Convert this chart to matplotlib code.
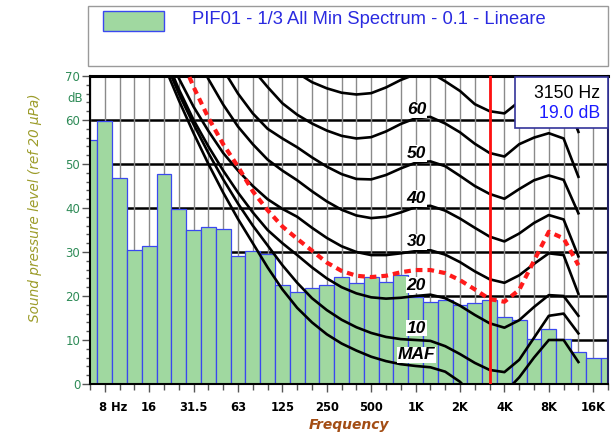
import numpy as np
import matplotlib
matplotlib.use('Agg')
import matplotlib.pyplot as plt
from matplotlib.patches import Rectangle
from matplotlib.transforms import ScaledTranslation, blended_transform_factory

# 1/3 octave bands, 6.3 Hz .. 20 kHz (index 0..35)
bands = ['6.3', '8', '10', '12.5', '16', '20', '25', '31.5', '40', '50', '63', '80',
         '100', '125', '160', '200', '250', '315', '400', '500', '630', '800', '1K',
         '1.25K', '1.6K', '2K', '2.5K', '3.15K', '4K', '5K', '6.3K', '8K', '10K',
         '12.5K', '16K', '20K']
spectrum = [55.5, 59.8, 46.8, 30.5, 31.4, 47.7, 39.8, 35.0, 35.7, 35.2, 29.1, 30.2,
            29.5, 22.5, 21.0, 21.8, 22.5, 24.3, 22.9, 24.3, 23.2, 24.8, 19.8, 18.6,
            19.1, 18.0, 18.4, 19.0, 15.3, 14.5, 10.2, 12.5, 10.2, 7.3, 5.9, 5.9]

tick_pos = [1, 4, 7, 10, 13, 16, 19, 22, 25, 28, 31, 34]
tick_labels = ['8 Hz', '16', '31.5', '63', '125', '250', '500', '1K', '2K', '4K', '8K', '16K']

# equal loudness contours, bands 20 Hz .. 12.5 kHz
contour_bands = list(range(5, 34))
maf = [72.5, 64.5, 57, 50, 43.5, 37.5, 32, 26.5, 21.5, 17.3, 14, 11.3, 9.2, 7.6, 6.2,
       5.2, 4.5, 4.1, 3.8, 2.8, 0.5, -3, -5, -2, 1.5, 6, 10, 10, 5]
phon10 = [74, 66, 59, 52.5, 46.5, 41, 36, 31.5, 27, 23, 19.5, 16.8, 14.6, 12.9, 11.6,
          10.7, 10.2, 10, 9.8, 8.6, 6.8, 4.8, 3.2, 2.7, 5.5, 10.5, 15.5, 16, 11.5]
phon20 = [75, 67, 60, 54, 48.5, 43.5, 39, 35, 32, 29.3, 26.5, 24, 22, 20.6, 19.7,
          19.4, 19.6, 20, 20.3, 19.5, 17.8, 15.7, 13.8, 12.8, 14.5, 17.5, 20.2, 20, 15.5]
phon30 = [77, 69.5, 63, 57.5, 52.5, 48.5, 45, 42, 39.8, 38, 35.5, 33.2, 31.3, 30, 29.3,
          29.3, 29.7, 30.2, 30.4, 29.4, 27.7, 25.6, 23.8, 23, 24.7, 27.3, 29.7, 29.3, 20.5]
phon40 = [90, 84, 76, 69.3, 63.5, 58.5, 54.5, 51, 48.5, 46.3, 43.8, 41.5, 39.6, 38.3, 37.7,
          38, 39, 40.2, 40.5, 39.4, 37.6, 35.5, 33.5, 32.4, 34.2, 36.6, 38.4, 37.4, 29]
phon50 = [100, 94, 87, 79, 71.5, 66, 61.5, 58, 55.8, 53.8, 51.5, 49.4, 47.7, 46.6, 46.5,
          47.5, 49, 50.3, 50.6, 49.5, 47.3, 45, 43.2, 42.1, 44.3, 46.3, 47.4, 46.4, 38.8]
phon60 = [110, 104, 98, 92, 86, 78, 71.5, 67.5, 63.8, 61.2, 59.2, 57.6, 56.4, 55.8, 56.1,
          57.4, 59.1, 60.4, 60.7, 59.2, 57.2, 54.6, 52.5, 51.7, 54.5, 56, 57, 55.8, 47.1]
phon70 = [120, 114, 108, 102, 96, 90, 84, 79, 74, 70.7, 68.6, 67.2, 66.2, 65.8, 66.1,
          67.4, 69.1, 70.4, 70.8, 68.8, 66.6, 63.6, 62, 61.5, 64.2, 66, 67, 65.8, 57.3]
limit_curve = [90, 75.5, 67.5, 60.5, 54.5, 49.4, 43.8, 39.5, 35.8, 33, 30.3, 27.6, 25.7,
               24.6, 24.3, 24.6, 25.4, 25.9, 25.9, 25.2, 23.6, 21.5, 19.3, 18.7, 21.4,
               28, 34.6, 33.1, 27]

curve_labels = ['60', '50', '40', '30', '20', '10', 'MAF']
curve_label_db = [62.3, 52.4, 42.2, 32.3, 22.5, 12.7, 6.6]
curve_label_band = 22.05

cursor_band = 27
cursor_freq = 3150
legend_text = 'PIF01 - 1/3 All Min Spectrum - 0.1 - Lineare'

W, H = 611, 432
fig = plt.figure(figsize=(W / 100, H / 100), dpi=100)
ax = fig.add_axes([90 / W, 1 - 384 / H, (608 - 90) / W, (384 - 76) / H])

x = np.arange(len(spectrum))
ax.bar(x, spectrum, width=1.0, color='#a0d8a0', edgecolor='#3a48f0', linewidth=0.9, zorder=2)

# grid
for v in range(10, 70, 10):
    ax.axhline(v, color='black', lw=1.8, zorder=1)
for i in x:
    ax.axvline(i, color='#8a8a8a', lw=1.0, zorder=1)

# contours
for c in [maf, phon10, phon20, phon30, phon40, phon50, phon60, phon70]:
    ax.plot(contour_bands, c, color='black', lw=1.9, zorder=3, solid_joinstyle='round')
ax.plot(contour_bands, limit_curve, color='#ff1a1a', lw=3, ls=(0, (1.6, 1.2)), zorder=3)

for t, v in zip(curve_labels, curve_label_db):
    ax.text(curve_label_band, v, t, ha='center', va='center', fontsize=12.5,
            family='Liberation Sans', weight='bold', style='italic', zorder=5,
            bbox=dict(boxstyle='square,pad=0.05', fc='white', ec='none'))

ax.axvline(cursor_band, color='#ff1010', lw=2, zorder=4)

ax.set_xlim(0, 34.97)
ax.set_ylim(0, 70)

ax.set_xticks(x, minor=True)
ax.set_xticks(tick_pos)
ax.set_xticklabels(tick_labels, fontsize=8.3, weight='bold', family='DejaVu Sans')
ax.tick_params(axis='x', which='major', length=6, width=1, color='#555555', pad=6)
ax.tick_params(axis='x', which='minor', length=4, width=1, color='#555555')
lab0 = ax.get_xticklabels()[0]
lab0.set_ha('left')
lab0.set_transform(lab0.get_transform() + ScaledTranslation(-4 / 72, 0, fig.dpi_scale_trans))

ax.set_yticks(range(0, 71, 10))
ax.set_yticks(range(0, 71, 2), minor=True)
ax.set_yticklabels([str(v) for v in range(0, 71, 10)], fontsize=8.5, color='#2e8b57')
ax.tick_params(axis='y', which='major', length=6, width=1, color='#555555', pad=1)
ax.tick_params(axis='y', which='minor', length=3, width=1, color='#555555')
tr = blended_transform_factory(ax.transAxes, ax.transData)
ax.text(-0.013, 65, 'dB', transform=tr, ha='right', va='center', fontsize=8.5, color='#2e8b57')

for s in ax.spines.values():
    s.set_linewidth(1.5)
    s.set_color('black')
ax.spines['top'].set_linewidth(2.2)
ax.spines['right'].set_color('#222266')

ax.set_xlabel('Frequency', fontsize=10, weight='bold', style='italic', color='#a34d14', labelpad=3)
fig.text(35 / W, 1 - 208 / H, 'Sound pressure level (ref 20 \u00b5Pa)', rotation=90,
         ha='center', va='center', fontsize=9.8, style='italic', color='#9c9c2a')

# legend box
fig.add_artist(Rectangle((88 / W, 1 - 66 / H), 520 / W, 60 / H, transform=fig.transFigure,
                         fc='white', ec='#9a9a9a', lw=1))
fig.add_artist(Rectangle((103 / W, 1 - 31 / H), 61 / W, 20 / H, transform=fig.transFigure,
                         fc='#a0d8a0', ec='#3a48f0', lw=1))
fig.text(192 / W, 1 - 20 / H, legend_text, ha='left', va='center', fontsize=13.2,
         family='Liberation Sans', color='#2a2ae0')

# cursor readout box
fig.add_artist(Rectangle((515 / W, 1 - 128 / H), 93 / W, 51 / H, transform=fig.transFigure,
                         fc='white', ec='#333399', lw=1.2, zorder=6))
fig.text(600 / W, 1 - 93 / H, f'{cursor_freq} Hz', ha='right', va='center', fontsize=12.7,
         family='Liberation Sans', color='black', zorder=7)
fig.text(600 / W, 1 - 113 / H, f'{spectrum[cursor_band]:.1f} dB', ha='right', va='center',
         fontsize=12.7, family='Liberation Sans', color='#1a1aff', zorder=7)

fig.savefig('out.png', dpi=100, facecolor='white')
